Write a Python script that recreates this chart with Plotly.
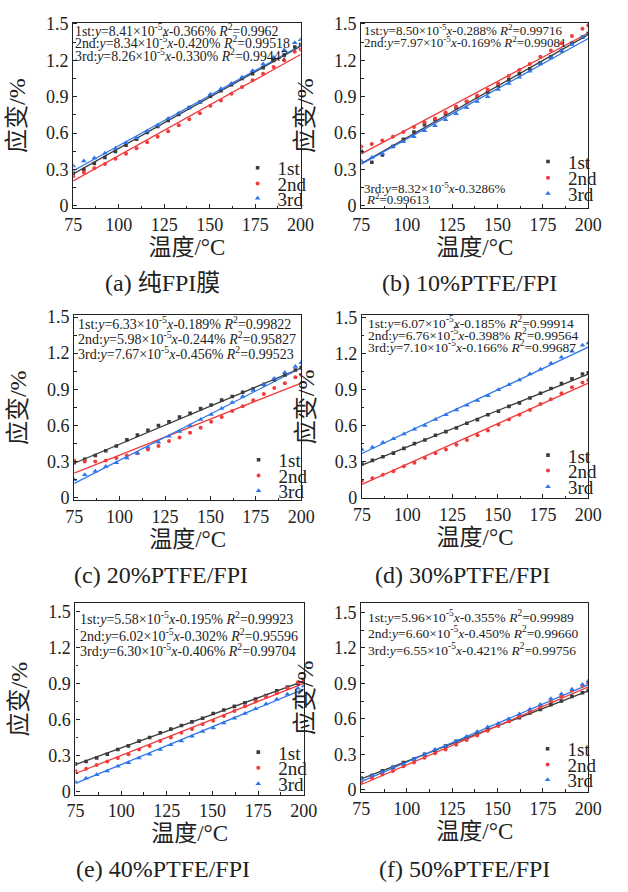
import plotly.graph_objects as go

# ---------------- data ----------------
TEMP = [75, 80.8, 86.6, 92.4, 98.2, 104, 109.8, 115.6, 121.4, 127.2, 133, 138.8,
        144.6, 150.4, 156.2, 162, 167.8, 173.6, 179.4, 185.2, 191, 196.8, 200]
FIT_T = [75, 200]
RUNS = ["1st", "2nd", "3rd"]
X_TICKS = [75, 100, 125, 150, 175, 200]
Y_TICKS = [0, 0.3, 0.6, 0.9, 1.2, 1.5]
CAPTIONS = ["(a) 纯FPI膜", "(b) 10%PTFE/FPI", "(c) 20%PTFE/FPI",
            "(d) 30%PTFE/FPI", "(e) 40%PTFE/FPI", "(f) 50%PTFE/FPI"]
X_TITLE = "温度/°C"
Y_TITLE = "应变/%"

a_1st = [0.27, 0.30, 0.35, 0.40, 0.45, 0.50, 0.55, 0.605, 0.655, 0.705, 0.755, 0.81,
         0.855, 0.905, 0.95, 1.00, 1.05, 1.09, 1.14, 1.20, 1.245, 1.31, 1.33]
a_2nd = [0.245, 0.275, 0.31, 0.345, 0.39, 0.43, 0.475, 0.525, 0.57, 0.615, 0.665, 0.715,
         0.765, 0.825, 0.87, 0.925, 0.98, 1.035, 1.09, 1.145, 1.20, 1.27, 1.29]
a_3rd = [0.33, 0.37, 0.395, 0.435, 0.475, 0.52, 0.56, 0.615, 0.665, 0.72, 0.765, 0.81,
         0.855, 0.92, 0.965, 1.01, 1.06, 1.115, 1.17, 1.225, 1.285, 1.345, 1.37]

b_1st = [0.45, 0.36, 0.42, 0.49, 0.55, 0.61, 0.67, 0.71, 0.76, 0.81, 0.86, 0.90,
         0.94, 0.99, 1.04, 1.09, 1.13, 1.18, 1.23, 1.28, 1.34, 1.39, 1.42]
b_2nd = [0.49, 0.51, 0.54, 0.57, 0.61, 0.65, 0.69, 0.72, 0.77, 0.82, 0.86, 0.91,
         0.96, 1.01, 1.07, 1.12, 1.17, 1.23, 1.28, 1.34, 1.40, 1.46, 1.49]
b_3rd = [0.37, 0.40, 0.43, 0.49, 0.53, 0.57, 0.62, 0.66, 0.71, 0.76, 0.81, 0.86,
         0.90, 0.96, 1.01, 1.06, 1.11, 1.17, 1.22, 1.28, 1.33, 1.39, 1.41]

c_1st = [0.29, 0.32, 0.35, 0.39, 0.43, 0.48, 0.52, 0.56, 0.60, 0.63, 0.67, 0.70,
         0.74, 0.77, 0.81, 0.84, 0.875, 0.905, 0.94, 0.98, 1.02, 1.06, 1.08]
c_2nd = [0.31, 0.30, 0.30, 0.31, 0.33, 0.35, 0.37, 0.40, 0.43, 0.47, 0.50, 0.54,
         0.58, 0.63, 0.67, 0.72, 0.76, 0.81, 0.86, 0.91, 0.95, 1.00, 1.02]
c_3rd = [0.15, 0.19, 0.22, 0.26, 0.29, 0.33, 0.37, 0.42, 0.46, 0.51, 0.55, 0.60,
         0.65, 0.69, 0.74, 0.79, 0.84, 0.89, 0.94, 0.99, 1.04, 1.09, 1.12]

d_1st = [0.28, 0.31, 0.34, 0.37, 0.41, 0.45, 0.48, 0.52, 0.55, 0.58, 0.62, 0.65,
         0.69, 0.72, 0.76, 0.79, 0.83, 0.87, 0.91, 0.95, 0.99, 1.03, 1.04]
d_2nd = [0.14, 0.16, 0.19, 0.22, 0.26, 0.29, 0.33, 0.37, 0.40, 0.44, 0.48, 0.52,
         0.56, 0.61, 0.65, 0.69, 0.73, 0.78, 0.82, 0.87, 0.92, 0.96, 0.98]
d_3rd = [0.40, 0.42, 0.46, 0.49, 0.53, 0.57, 0.60, 0.65, 0.69, 0.73, 0.77, 0.81,
         0.85, 0.90, 0.94, 0.98, 1.03, 1.07, 1.12, 1.17, 1.22, 1.27, 1.29]

e_1st = [0.23, 0.25, 0.28, 0.31, 0.35, 0.38, 0.42, 0.45, 0.49, 0.52, 0.55, 0.58,
         0.61, 0.65, 0.68, 0.71, 0.74, 0.77, 0.80, 0.84, 0.87, 0.90, 0.92]
e_2nd = [0.17, 0.19, 0.22, 0.25, 0.28, 0.31, 0.35, 0.38, 0.42, 0.45, 0.49, 0.52,
         0.56, 0.59, 0.63, 0.67, 0.71, 0.75, 0.79, 0.82, 0.86, 0.91, 0.93]
e_3rd = [0.08, 0.11, 0.14, 0.17, 0.21, 0.24, 0.28, 0.31, 0.35, 0.39, 0.42, 0.46,
         0.50, 0.53, 0.57, 0.61, 0.65, 0.69, 0.73, 0.77, 0.81, 0.86, 0.88]

f_1st = [0.10, 0.12, 0.16, 0.19, 0.23, 0.26, 0.30, 0.33, 0.37, 0.41, 0.44, 0.47,
         0.51, 0.55, 0.58, 0.61, 0.65, 0.68, 0.72, 0.75, 0.79, 0.82, 0.84]
f_2nd = [0.06, 0.10, 0.13, 0.16, 0.20, 0.23, 0.27, 0.31, 0.34, 0.38, 0.42, 0.46,
         0.50, 0.54, 0.58, 0.62, 0.66, 0.70, 0.75, 0.79, 0.84, 0.88, 0.90]
f_3rd = [0.09, 0.12, 0.15, 0.19, 0.22, 0.26, 0.30, 0.34, 0.37, 0.41, 0.45, 0.49,
         0.53, 0.56, 0.60, 0.64, 0.68, 0.72, 0.77, 0.81, 0.85, 0.89, 0.92]

# fitted lines: strain at 75 and at 200 degC
a_fit = [[0.265, 1.316], [0.206, 1.248], [0.290, 1.322]]
b_fit = [[0.350, 1.412], [0.429, 1.425], [0.345, 1.380]]
c_fit = [[0.286, 1.077], [0.205, 0.952], [0.119, 1.078]]
d_fit = [[0.270, 1.029], [0.109, 0.954], [0.367, 1.254]]
e_fit = [[0.224, 0.921], [0.150, 0.902], [0.067, 0.854]]
f_fit = [[0.092, 0.837], [0.045, 0.870], [0.070, 0.889]]

a_eq = ["1st:<i>y</i>=8.41×10<sup>-5</sup><i>x</i>-0.366% <i>R</i><sup>2</sup>=0.9962",
        "2nd:<i>y</i>=8.34×10<sup>-5</sup><i>x</i>-0.420% <i>R</i><sup>2</sup>=0.99518",
        "3rd:<i>y</i>=8.26×10<sup>-5</sup><i>x</i>-0.330% <i>R</i><sup>2</sup>=0.99447"]
b_eq = ["1st:<i>y</i>=8.50×10<sup>-5</sup><i>x</i>-0.288% <i>R</i><sup>2</sup>=0.99716",
        "2nd:<i>y</i>=7.97×10<sup>-5</sup><i>x</i>-0.169% <i>R</i><sup>2</sup>=0.99081",
        "3rd:<i>y</i>=8.32×10<sup>-5</sup><i>x</i>-0.3286%",
        "<i>R</i><sup>2</sup>=0.99613"]
c_eq = ["1st:<i>y</i>=6.33×10<sup>-5</sup><i>x</i>-0.189% <i>R</i><sup>2</sup>=0.99822",
        "2nd:<i>y</i>=5.98×10<sup>-5</sup><i>x</i>-0.244% <i>R</i><sup>2</sup>=0.95827",
        "3rd:<i>y</i>=7.67×10<sup>-5</sup><i>x</i>-0.456% <i>R</i><sup>2</sup>=0.99523"]
d_eq = ["1st:<i>y</i>=6.07×10<sup>-5</sup><i>x</i>-0.185% <i>R</i><sup>2</sup>=0.99914",
        "2nd:<i>y</i>=6.76×10<sup>-5</sup><i>x</i>-0.398% <i>R</i><sup>2</sup>=0.99564",
        "3rd:<i>y</i>=7.10×10<sup>-5</sup><i>x</i>-0.166% <i>R</i><sup>2</sup>=0.99687"]
e_eq = ["1st:<i>y</i>=5.58×10<sup>-5</sup><i>x</i>-0.195% <i>R</i><sup>2</sup>=0.99923",
        "2nd:<i>y</i>=6.02×10<sup>-5</sup><i>x</i>-0.302% <i>R</i><sup>2</sup>=0.95596",
        "3rd:<i>y</i>=6.30×10<sup>-5</sup><i>x</i>-0.406% <i>R</i><sup>2</sup>=0.99704"]
f_eq = ["1st:<i>y</i>=5.96×10<sup>-5</sup><i>x</i>-0.355% <i>R</i><sup>2</sup>=0.99989",
        "2nd:<i>y</i>=6.60×10<sup>-5</sup><i>x</i>-0.450% <i>R</i><sup>2</sup>=0.99660",
        "3rd:<i>y</i>=6.55×10<sup>-5</sup><i>x</i>-0.421% <i>R</i><sup>2</sup>=0.99756"]

SERIES = [[a_1st, a_2nd, a_3rd], [b_1st, b_2nd, b_3rd], [c_1st, c_2nd, c_3rd],
          [d_1st, d_2nd, d_3rd], [e_1st, e_2nd, e_3rd], [f_1st, f_2nd, f_3rd]]
FITS = [a_fit, b_fit, c_fit, d_fit, e_fit, f_fit]
EQS = [a_eq, b_eq, c_eq, d_eq, e_eq, f_eq]

# ---------------- style / layout ----------------
W, H = 628, 892
SERIF = "Liberation Serif"
CJK = "Liberation Serif, Noto Sans CJK SC, sans-serif"
INK = "#222222"
COLORS = ["#3b3b3b", "#f03c3c", "#2f76ea"]
SYMBOLS = ["square", "circle", "triangle-up"]
SIZES = [3.6, 4, 5]

# plot frames in px: left, right, top, bottom
FRAMES = [(66.7, 302.7, 15, 204.3), (365.7, 601.3, 15, 204.3),
          (67.7, 303.3, 313.3, 501.7), (366.3, 601.3, 313.3, 500),
          (69, 306, 607, 802), (365.7, 601.3, 607, 799.3)]
YRANGES = [(-0.02, 1.51), (-0.02, 1.51), (-0.02, 1.514), (-0.008, 1.52),
           (-0.027, 1.568), (-0.019, 1.575)]
# equation text: font size, (dx, dy from top-left / bottom-left) per line
EQ_FONT = [13.8, 13, 14, 13.5, 14, 13.5]
EQ_POS = [[(1, 7.7), (1, 20), (1, 33.3)],
          [(2, 7.7), (2, 20), (2, -21), (4, -10)],
          [(3, 7.4), (3, 22.7), (3, 38.4)],
          [(5, 7.4), (5, 20), (5, 31.7)],
          [(4, 15), (4, 31.7), (4, 47.7)],
          [(6, 13.3), (6, 30), (6, 46.7)]]
LEG_TEXT_DX = [-33.4, -30.6, -33, -30.6, -36, -31]
LEG_DY = [(-41.3, -25.3, -10.3), (-47.6, -31, -15), (-41, -25, -9.4),
          (-44, -28.3, -11.7), (-43.3, -27.3, -11), (-44, -28, -12.3)]
CAP_POS = [(159, 280), (478, 280), (158, 578), (471, 578), (160, 878), (473, 878)]

fig = go.Figure()
layout = dict(width=W, height=H, margin=dict(l=0, r=0, t=0, b=0),
              paper_bgcolor="white", plot_bgcolor="white",
              font=dict(family=SERIF, color=INK), annotations=[], showlegend=True)

for p in range(6):
    sfx = "" if p == 0 else str(p + 1)
    xa, ya = "x" + sfx, "y" + sfx
    l, r, t, b = FRAMES[p]
    common = dict(showgrid=False, zeroline=False, showline=True, mirror=True,
                  linecolor=INK, linewidth=1.2, ticks="inside", ticklen=4,
                  tickcolor=INK, tickwidth=1,
                  tickfont=dict(family=SERIF, size=18, color=INK))
    layout["xaxis" + sfx] = dict(common, domain=[l / W, r / W], anchor=ya,
                                 range=[75, 200], tickmode="array", tickvals=X_TICKS,
                                 minor=dict(ticks="inside", ticklen=2.5, tickcolor=INK,
                                            tickmode="linear", tick0=75, dtick=12.5),
                                 title=dict(text=X_TITLE, standoff=0,
                                            font=dict(family=CJK, size=23, color=INK)))
    layout["yaxis" + sfx] = dict(common, domain=[1 - b / H, 1 - t / H], anchor=xa,
                                 range=list(YRANGES[p]), tickmode="array", tickvals=Y_TICKS,
                                 minor=dict(ticks="inside", ticklen=2.5, tickcolor=INK,
                                            tickmode="linear", tick0=0, dtick=0.15),
                                 title=dict(text=Y_TITLE, standoff=13,
                                            font=dict(family=CJK, size=24, color=INK)))
    for k in range(3):
        fig.add_trace(go.Scatter(x=FIT_T, y=FITS[p][k], mode="lines",
                                 line=dict(color=COLORS[k], width=1.3),
                                 xaxis=xa, yaxis=ya, showlegend=False, hoverinfo="skip"))
    for k in range(3):
        n = p * 3 + k
        lid = "legend" if n == 0 else "legend%d" % (n + 1)
        fig.add_trace(go.Scatter(x=TEMP, y=SERIES[p][k], mode="markers", name=RUNS[k],
                                 marker=dict(symbol=SYMBOLS[k], size=SIZES[k], color=COLORS[k]),
                                 xaxis=xa, yaxis=ya, legend=lid))
        layout[lid] = dict(x=(r + LEG_TEXT_DX[p] - 32) / W, xanchor="left",
                           y=1 - (b + LEG_DY[p][k]) / H, yanchor="middle",
                           bgcolor="rgba(0,0,0,0)", borderwidth=0, itemwidth=30,
                           font=dict(family=SERIF, size=19, color=INK))
    for j, txt in enumerate(EQS[p]):
        dx, dy = EQ_POS[p][j]
        yy = t + dy if dy > 0 else b + dy
        layout["annotations"].append(dict(
            text=txt, xref="paper", yref="paper", x=(l + dx) / W, y=1 - yy / H,
            xanchor="left", yanchor="middle", showarrow=False, borderpad=0,
            font=dict(family=SERIF, size=EQ_FONT[p], color=INK)))
    cx, cy = CAP_POS[p]
    layout["annotations"].append(dict(
        text=CAPTIONS[p], xref="paper", yref="paper", x=cx / W, y=1 - cy / H,
        xanchor="center", yanchor="middle", showarrow=False,
        font=dict(family=CJK, size=24, color=INK)))

fig.update_layout(**layout)
fig.write_html("out.html")
